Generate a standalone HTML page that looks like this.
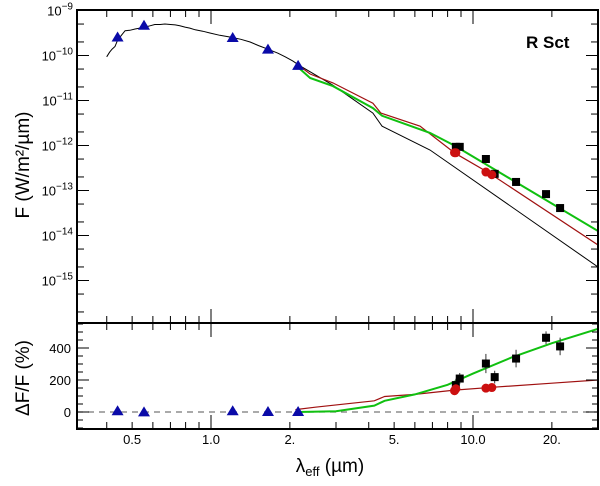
<!DOCTYPE html>
<html><head><meta charset="utf-8"><style>
html,body{margin:0;padding:0;background:#fff;}
svg{display:block;font-family:"Liberation Sans",sans-serif;}
</style></head><body>
<svg id="chart" width="600" height="486" viewBox="0 0 600 486" xmlns="http://www.w3.org/2000/svg">
<g id="gtop"></g>
<g id="gbot"></g>
<g id="frame"></g>
<text x="0" y="0" transform="translate(29,165) rotate(-90)" text-anchor="middle" font-size="19">F (W/m²/µm)</text>
<text x="0" y="0" transform="translate(29,378) rotate(-90)" text-anchor="middle" font-size="19">ΔF/F (%)</text>
<text x="330" y="472" text-anchor="middle" font-size="19">λ<tspan font-size="13" dy="4">eff</tspan><tspan dy="-4"> (µm)</tspan></text>
<text x="526" y="48" font-size="17" font-weight="bold">R Sct</text>
</svg>
<script>
// ---- data ----
const photLam = [0.44, 0.555, 1.21, 1.65, 2.15];
const photLogF = [-9.60, -9.34, -9.61, -9.87, -10.23];
const photResid = [5, -2, 5, 0, 0];
const irLam = [8.6, 8.9, 11.2, 12.1, 14.6, 19.0, 21.5];
const irLogF = [-12.03, -12.03, -12.30, -12.63, -12.81, -13.08, -13.39];
const irResid = [168, 209, 303, 218, 334, 464, 410];
const irErr = [40, 35, 60, 40, 55, 40, 55];
const redPtLam = [8.5, 8.6, 11.2, 11.8];
const redPtLogF = [-12.16, -12.16, -12.59, -12.65];
const redPtResid = [133, 145, 149, 153];
const starLam = [0.40,0.41,0.419,0.43,0.44,0.455,0.47,0.49,0.513,0.535,0.56,0.585,0.61,0.64,0.667,0.70,0.73,0.76,0.796,0.83,0.87,0.93,0.99,1.08,1.18,1.3,1.41,1.52,1.65,1.8,1.92,2.05,2.19,2.92,4.15,4.5,6.85,30];
const starLogF = [-10.03,-9.93,-9.86,-9.80,-9.66,-9.55,-9.45,-9.44,-9.41,-9.39,-9.37,-9.34,-9.31,-9.31,-9.30,-9.31,-9.32,-9.34,-9.37,-9.39,-9.43,-9.46,-9.50,-9.55,-9.59,-9.64,-9.70,-9.78,-9.86,-9.95,-10.03,-10.12,-10.23,-10.66,-11.28,-11.57,-12.10,-14.70];
const redLam = [2.15,2.39,2.92,4.15,4.45,6.28,8.54,11.5,30];
const redLogF = [-10.21,-10.41,-10.61,-11.06,-11.28,-11.57,-12.17,-12.61,-14.21];
const greenLam = [2.15,2.39,2.92,4.15,4.5,6.85,8.54,30];
const greenLogF = [-10.26,-10.50,-10.68,-11.17,-11.34,-11.72,-12.01,-13.90];
const greenResLam = [2.15,3,4.2,4.6,6,8,10,14,20,30];
const greenResid = [0,5,40,70,110,170,240,340,430,520];
const redResLam = [2.1,2.5,4.2,4.6,6,8.5,12,20,30];
const redResid = [15,30,70,97,110,137,155,180,200];
const xTickVals = [0.5,1,2,5,10,20];
const xTickLabels = ["0.5","1.0","2.","5.","10.0","20."];
const yTopDecades = [-9,-10,-11,-12,-13,-14,-15];
const yBotTicks = [0,200,400];

// ---- axes ----
const L=77,R=598,T=10,MID=323,B=429;
const X = l => 211 + Math.log10(l)*262;
const YT = lf => 10.5 + (-9 - lf)*45;
const YB = v => 412 - v*0.16;
const NS="http://www.w3.org/2000/svg";
function mk(tag, attrs, parent){const e=document.createElementNS(NS,tag);for(const k in attrs)e.setAttribute(k,attrs[k]);parent.appendChild(e);return e;}
const gTop=document.getElementById('gtop'), gBot=document.getElementById('gbot'), fr=document.getElementById('frame');

const defs=mk('defs',{},document.getElementById('chart'));
const c1=mk('clipPath',{id:'ct'},defs); mk('rect',{x:L,y:T,width:R-L,height:MID-T},c1);
const c2=mk('clipPath',{id:'cb'},defs); mk('rect',{x:L,y:MID,width:R-L,height:B-MID},c2);
gTop.setAttribute('clip-path','url(#ct)'); gBot.setAttribute('clip-path','url(#cb)');

function line(xs, ys, fx, fy, color, w, parent, name){
  const p=mk('polyline',{points:xs.map((x,i)=>fx(x).toFixed(1)+','+fy(ys[i]).toFixed(1)).join(' '),fill:'none',stroke:color,'stroke-width':w},parent);
  
  
}
function tri(cx,cy,parent){const p=mk('polygon',{points:`${cx},${cy-6} ${cx-6},${cy+4} ${cx+6},${cy+4}`,fill:'#0a0aa8'},parent);
  
  }
function sq(cx,cy,parent){const p=mk('rect',{x:cx-4,y:cy-4,width:8,height:8,fill:'#000'},parent);
  
  }
function circ(cx,cy,parent){const p=mk('circle',{cx:cx,cy:cy,r:4.5,fill:'#cc1010'},parent);
  
  }

// top panel
line(starLam, starLogF, X, YT, '#000', 1, gTop, 'photosphere-model-line');
line(redLam, redLogF, X, YT, '#a01010', 1.2, gTop, 'red-model-line');
line(greenLam, greenLogF, X, YT, '#10c010', 2, gTop, 'green-model-line');
photLam.forEach((l,i)=>tri(X(l),YT(photLogF[i]),gTop));
irLam.forEach((l,i)=>sq(X(l),YT(irLogF[i]),gTop));
redPtLam.forEach((l,i)=>circ(X(l),YT(redPtLogF[i]),gTop));

// bottom panel
const z=mk('line',{x1:L,x2:R,y1:YB(0),y2:YB(0),stroke:'#777','stroke-width':1.3,'stroke-dasharray':'6,5'},gBot);


line(redResLam, redResid, X, YB, '#a01010', 1.2, gBot, 'red-residual-line');
line(greenResLam, greenResid, X, YB, '#10c010', 2, gBot, 'green-residual-line');
irLam.forEach((l,i)=>{mk('line',{x1:X(l),x2:X(l),y1:YB(irResid[i]-irErr[i]),y2:YB(irResid[i]+irErr[i]),stroke:'#333','stroke-width':1},gBot);sq(X(l),YB(irResid[i]),gBot);});
redPtLam.forEach((l,i)=>circ(X(l),YB(redPtResid[i]),gBot));
photLam.forEach((l,i)=>tri(X(l),YB(photResid[i]),gBot));

// frame
mk('rect',{x:L,y:T,width:R-L,height:B-T,fill:'none',stroke:'#000','stroke-width':2},fr);
mk('line',{x1:L,x2:R,y1:MID,y2:MID,stroke:'#000','stroke-width':2},fr);
function tk(x1,y1,x2,y2){mk('line',{x1:x1,y1:y1,x2:x2,y2:y2,stroke:'#000','stroke-width':1},fr);}
const minors=[];
for(const d of [0.1,1,10]) for(let k=1;k<10;k++){const v=Math.round(k*d*100)/100; if(v>=0.31&&v<=30) minors.push(v);}
minors.forEach(v=>{const x=X(v); const major=(v===1||v===10); const h=major?14:7;
  [T,MID].forEach(yy=>tk(x,yy,x,yy+h)); [MID,B].forEach(yy=>tk(x,yy,x,yy-h));});
xTickVals.forEach((v,i)=>{const t=mk('text',{x:X(v),y:B+15,'text-anchor':'middle','font-size':13},fr);t.textContent=xTickLabels[i];
  
  });
for(let d=-9; d>=-16; d--){ [1,2,5].forEach(m=>{const lf=d+Math.log10(m); const y=YT(lf); if(y<T-0.5||y>MID) return; const h=m===1?12:7; tk(L,y,L+h,y); tk(R,y,R-h,y);});}
yTopDecades.forEach(d=>{const t=mk('text',{x:L-4,y:YT(d)+5,'text-anchor':'end','font-size':13},fr);
  t.appendChild(document.createTextNode('10'));
  const s=mk('tspan',{dy:-6,'font-size':10},t); s.textContent='−'+(-d);
  
  });
for(let v=-100; v<=550; v+=50){const y=YB(v); if(y<MID||y>B) continue; const h=(v%200===0)?12:6; tk(L,y,L+h,y); tk(R,y,R-h,y);}
yBotTicks.forEach(v=>{const t=mk('text',{x:L-6,y:YB(v)+5,'text-anchor':'end','font-size':13},fr);t.textContent=v;
  
  });
</script>
</body></html>
